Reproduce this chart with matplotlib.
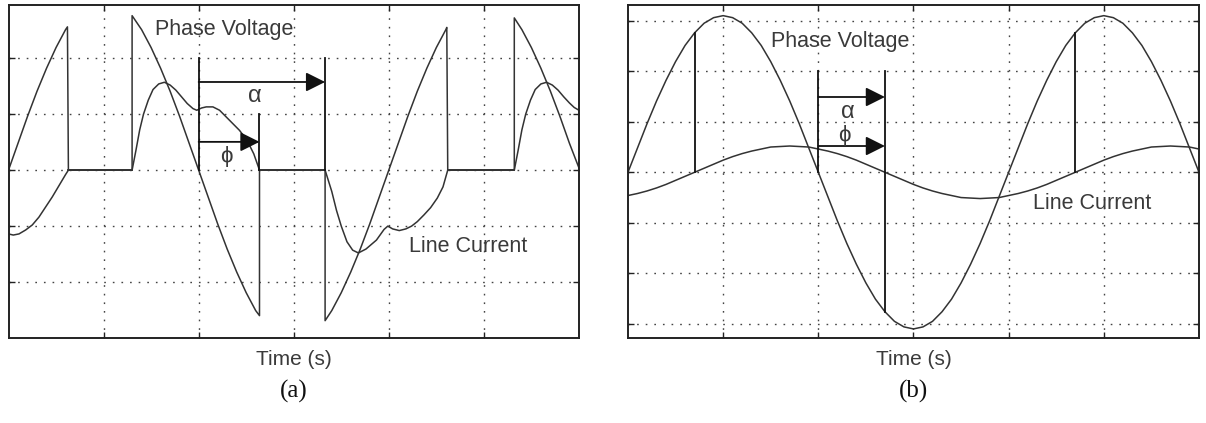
import matplotlib
matplotlib.use("Agg")
import matplotlib.pyplot as plt
import numpy as np

# ---- panel (a): phase-controlled voltage and line current ----
va_t = [0, 0.1, 0.2, 0.3, 0.4, 0.5, 0.6, 0.62, 0.63,
        1.30, 1.30, 1.4, 1.5, 1.6, 1.7, 1.8, 1.9, 2.0, 2.1, 2.2, 2.3, 2.4, 2.5, 2.6, 2.64, 2.64,
        3.33, 3.33, 3.4, 3.5, 3.6, 3.7, 3.8, 3.9, 4.0, 4.1, 4.2, 4.3, 4.4, 4.5, 4.6, 4.61, 4.62,
        5.32, 5.32, 5.4, 5.5, 5.6, 5.7, 5.8, 5.9, 6.0]
va_v = [0, 0.48, 0.96, 1.41, 1.82, 2.19, 2.51, 2.56, 0,
        0, 2.76, 2.51, 2.19, 1.82, 1.41, 0.96, 0.48, 0, -0.48, -0.96, -1.41, -1.82, -2.19, -2.51, -2.60, 0,
        0, -2.69, -2.51, -2.19, -1.82, -1.41, -0.96, -0.48, 0, 0.48, 0.96, 1.41, 1.82, 2.19, 2.51, 2.55, 0,
        0, 2.72, 2.51, 2.19, 1.82, 1.41, 0.96, 0.48, 0.04]

ia_t = [0, 0.05, 0.11, 0.18, 0.25, 0.32, 0.39, 0.46, 0.53, 0.60, 0.63,
        1.30, 1.34, 1.38, 1.42, 1.47, 1.52, 1.58, 1.64, 1.70, 1.76, 1.82, 1.88, 1.94, 1.98,
        2.03, 2.08, 2.15, 2.22, 2.29, 2.36, 2.43, 2.51, 2.58, 2.64,
        3.33, 3.40, 3.45, 3.50, 3.56, 3.62, 3.68, 3.76, 3.87, 3.95, 3.99,
        4.04, 4.11, 4.18, 4.24, 4.30, 4.37, 4.44, 4.51, 4.57, 4.62,
        5.32, 5.36, 5.40, 5.44, 5.49, 5.54, 5.60, 5.66, 5.72, 5.78, 5.84, 5.90, 5.95, 6.0]
ia_i = [-1.14, -1.16, -1.14, -1.07, -0.98, -0.84, -0.66, -0.48, -0.28, -0.08, 0,
        0, 0.35, 0.72, 1.00, 1.25, 1.44, 1.54, 1.57, 1.52, 1.43, 1.31, 1.19, 1.10, 1.07,
        1.11, 1.13, 1.13, 1.07, 0.95, 0.83, 0.71, 0.53, 0.29, 0,
        0, -0.38, -0.72, -1.00, -1.28, -1.43, -1.48, -1.41, -1.25, -1.06, -1.00,
        -1.05, -1.08, -1.05, -1.00, -0.92, -0.80, -0.67, -0.50, -0.30, 0,
        0, 0.35, 0.72, 1.00, 1.25, 1.44, 1.54, 1.57, 1.52, 1.43, 1.31, 1.20, 1.12, 1.07]

# firing / extinction instants used by the alpha and phi markers
a_zero = 2.0
a_fire = 3.33
a_ext = 2.64

# ---- panel (b): sinusoidal voltage and line current ----
tb = np.linspace(0, 6, 61)
vb = [0, 0.48, 0.96, 1.41, 1.82, 2.19, 2.51, 2.76, 2.95, 3.06, 3.10, 3.06, 2.95, 2.76, 2.51, 2.19,
      1.82, 1.41, 0.96, 0.48, 0,
      -0.48, -0.96, -1.41, -1.82, -2.19, -2.51, -2.76, -2.95, -3.06, -3.10, -3.06, -2.95, -2.76,
      -2.51, -2.19, -1.82, -1.41, -0.96, -0.48, 0,
      0.48, 0.96, 1.41, 1.82, 2.19, 2.51, 2.76, 2.95, 3.06, 3.10, 3.06, 2.95, 2.76, 2.51, 2.19,
      1.82, 1.41, 0.96, 0.48, 0]
ib = [-0.46, -0.42, -0.37, -0.31, -0.24, -0.16, -0.08, 0,
      0.08, 0.16, 0.24, 0.31, 0.37, 0.42, 0.46, 0.50, 0.51, 0.52,
      0.51, 0.50, 0.46, 0.42, 0.37, 0.31, 0.24, 0.16, 0.08, 0,
      -0.08, -0.16, -0.24, -0.31, -0.37, -0.42, -0.46, -0.50, -0.51, -0.52,
      -0.51, -0.50, -0.46, -0.42, -0.37, -0.31, -0.24, -0.16, -0.08, 0,
      0.08, 0.16, 0.24, 0.31, 0.37, 0.42, 0.46, 0.50, 0.51, 0.52, 0.51, 0.50, 0.46]

b_zero = 2.0
b_shift = 2.7
b_cross = [0.7, 4.7]
b_cross_v = [2.76, 2.76]
b_shift_v = -2.76

CURVE = "#333333"
MARK = "#111111"
TXT = "#3a3a3a"
SANS = ["Liberation Sans", "DejaVu Sans"]


def style_axes(ax, ylim, yticks):
    ax.set_xlim(0, 6)
    ax.set_ylim(*ylim)
    ax.set_xticks([1, 2, 3, 4, 5])
    ax.set_yticks(yticks)
    ax.tick_params(direction="in", length=4, width=1, top=True, right=True,
                   labelbottom=False, labelleft=False, colors="#222222")
    ax.grid(True, color="#444444", linestyle=(0, (1.2, 5)), linewidth=1.0)
    for s in ax.spines.values():
        s.set_linewidth(1.4)
        s.set_color("#222222")


def arrow(ax, x0, x1, y):
    ax.annotate("", xy=(x1, y), xytext=(x0, y),
                arrowprops=dict(arrowstyle="-|>,head_length=0.9,head_width=0.45",
                                mutation_scale=13, lw=1.3, color=MARK,
                                shrinkA=0, shrinkB=0))


fig = plt.figure(figsize=(12.06, 4.23), dpi=100)
ax_a = fig.add_axes([0.00705, 0.2009, 0.4730, 0.7872])
ax_b = fig.add_axes([0.5207, 0.2009, 0.4735, 0.7872])

# panel (a)
style_axes(ax_a, (-3.0, 2.95), [-2, -1, 0, 1, 2])
ax_a.plot(va_t, va_v, color=CURVE, lw=1.1)
ax_a.plot(ia_t, ia_i, color=CURVE, lw=1.1)
ax_a.plot([0.63, 1.30], [0, 0], color=CURVE, lw=1.3)
ax_a.plot([2.64, 3.33], [0, 0], color=CURVE, lw=1.3)
ax_a.plot([4.62, 5.32], [0, 0], color=CURVE, lw=1.3)
ax_a.plot([a_zero, a_zero], [2.0, 0], color=MARK, lw=1.3)
ax_a.plot([a_fire, a_fire], [2.0, 0], color=MARK, lw=1.3)
ax_a.plot([a_ext, a_ext], [1.0, 0], color=MARK, lw=1.3)
arrow(ax_a, a_zero, a_fire, 1.575)
arrow(ax_a, a_zero, a_ext, 0.505)
ax_a.text(2.59, 1.32, "α", fontsize=17, family=SANS, color=TXT, ha="center", va="center")
ax_a.text(2.29, 0.25, "ϕ", fontsize=16, family=SANS, color=TXT, ha="center", va="center")
ax_a.text(1.54, 2.51, "Phase Voltage", fontsize=15.5, family=SANS, color=TXT, va="center")
ax_a.text(4.21, -1.37, "Line Current", fontsize=15.5, family=SANS, color=TXT, va="center")

# panel (b)
style_axes(ax_b, (-3.28, 3.31), [-3, -2, -1, 0, 1, 2, 3])
ax_b.plot(tb, vb, color=CURVE, lw=1.1)
ax_b.plot(tb, ib, color=CURVE, lw=1.1)
for x, v in zip(b_cross, b_cross_v):
    ax_b.plot([x, x], [0, v], color=MARK, lw=1.3)
ax_b.plot([b_zero, b_zero], [2.0, 0], color=MARK, lw=1.3)
ax_b.plot([b_shift, b_shift], [2.0, b_shift_v], color=MARK, lw=1.3)
arrow(ax_b, b_zero, b_shift, 1.49)
arrow(ax_b, b_zero, b_shift, 0.52)
ax_b.text(2.31, 1.20, "α", fontsize=17, family=SANS, color=TXT, ha="center", va="center")
ax_b.text(2.27, 0.72, "ϕ", fontsize=16, family=SANS, color=TXT, ha="center", va="center")
ax_b.text(1.50, 2.59, "Phase Voltage", fontsize=15.5, family=SANS, color=TXT, va="center")
ax_b.text(4.26, -0.62, "Line Current", fontsize=15.5, family=SANS, color=TXT, va="center")

# captions
for xc, tag in [(294 / 1206, "(a)"), (913.5 / 1206, "(b)")]:
    fig.text(xc, 0.150, "Time (s)", fontsize=15, family=SANS, color=TXT, ha="center", va="center")
    fig.text(xc, 0.074, tag, fontsize=18, family=["Liberation Serif", "DejaVu Serif"],
             color="#111111", ha="center", va="center")

fig.savefig("out.png", dpi=100)
